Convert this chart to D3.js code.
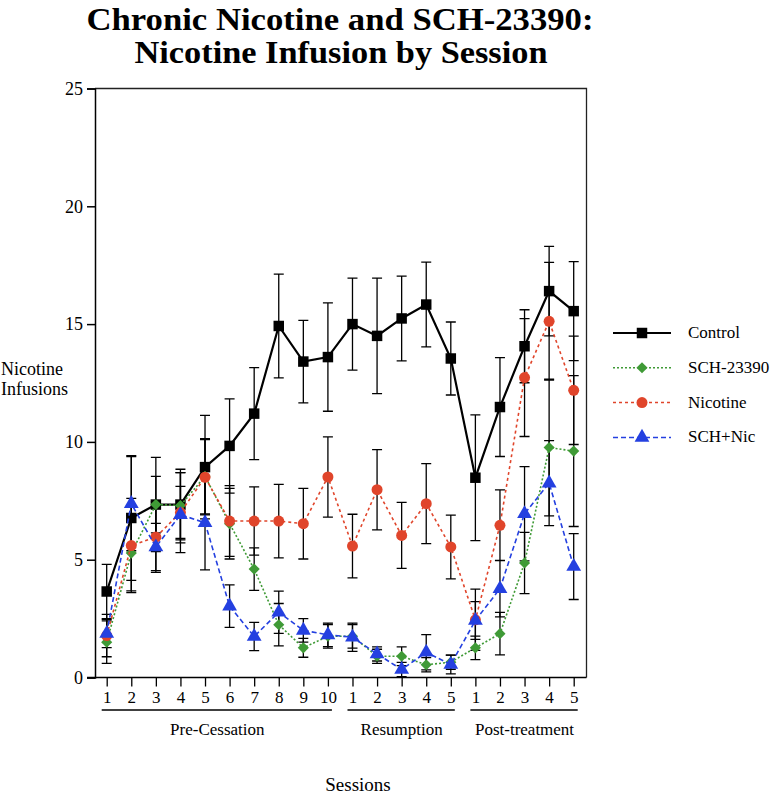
<!DOCTYPE html>
<html><head><meta charset="utf-8">
<script src="https://cdn.jsdelivr.net/npm/d3@7"></script>
<style>body{margin:0;background:#fff}svg{display:block}svg text{font-family:"Liberation Serif","Times New Roman",serif !important;fill:#000}</style>
</head><body>
<svg id="c" width="774" height="795"></svg>
<script>
const sessionLabels = ["1","2","3","4","5","6","7","8","9","10","1","2","3","4","5","1","2","3","4","5"];
const groups = [
  {name:"Pre-Cessation", start:0, end:9},
  {name:"Resumption", start:10, end:14},
  {name:"Post-treatment", start:15, end:19}
];
const yTicks = [0,5,10,15,20,25];

const controlMean = [3.65,6.77,7.34,7.34,8.93,9.83,11.2,14.92,13.41,13.6,15.0,14.5,15.24,15.83,13.54,8.48,11.48,14.06,16.4,15.55];
const controlSE   = [1.15,2.65,2.0,1.5,2.2,2.0,1.95,2.2,1.75,2.3,1.95,2.45,1.8,1.8,1.55,2.67,2.1,1.55,1.9,2.1];
const schMean = [1.5,5.28,7.34,7.3,8.54,6.53,4.6,2.24,1.26,1.75,1.75,0.9,0.9,0.54,0.65,1.26,1.86,4.86,9.76,9.61];
const schSE   = [0.9,1.6,1.2,1.4,1.6,1.5,0.9,0.9,0.4,0.5,0.5,0.3,0.4,0.3,0.3,0.5,0.9,1.3,2.9,3.2];
const nicMean = [1.78,5.6,5.96,7.0,8.5,6.64,6.64,6.64,6.53,8.51,5.58,7.97,6.03,7.38,5.54,2.45,6.46,12.73,15.12,12.19];
const nicSE   = [0.9,2.0,1.5,1.7,1.6,1.5,1.45,1.56,1.5,1.7,1.35,1.7,1.4,1.7,1.35,1.3,1.5,2.5,2.5,2.3];
const snMean = [1.87,7.38,5.54,6.91,6.57,3.03,1.74,2.77,2.0,1.81,1.71,1.0,0.34,1.07,0.55,2.42,3.77,6.95,8.25,4.71];
const snSE   = [0.6,2.0,1.0,1.2,2.0,0.9,0.6,0.9,0.5,0.5,0.6,0.3,0.3,0.75,0.4,0.8,1.2,2.0,1.8,1.4];

const series = [
  {name:"Control",   mean:controlMean, se:controlSE, color:"#000000", dash:null,  width:2.2, shape:d3.symbolSquare,   size:110, rot:0},
  {name:"SCH-23390", mean:schMean,     se:schSE,     color:"#3f9a36", dash:"2,2", width:1.6, shape:d3.symbolSquare,   size:62,  rot:45},
  {name:"Nicotine",  mean:nicMean,     se:nicSE,     color:"#e0452b", dash:"3,3", width:1.6, shape:d3.symbolCircle,   size:95,  rot:0},
  {name:"SCH+Nic",   mean:snMean,      se:snSE,      color:"#2440e0", dash:"5,3", width:1.6, shape:d3.symbolTriangle, size:95,  rot:0}
];

const FONT = "Liberation Serif";
const svg = d3.select("#c").style("font-family", FONT);
const L = 95, R = 586.5, T = 88.5, B = 677.5;
const x = d3.scaleLinear().domain([0,19]).range([106.7,573.7]);
const y = d3.scaleLinear().domain([0,25]).range([B,T]);

// title
svg.append("text").attr("x",340).attr("y",30).attr("text-anchor","middle")
  .attr("font-size",32).attr("font-weight","bold")
  .attr("textLength",507).attr("lengthAdjust","spacingAndGlyphs")
  .text("Chronic Nicotine and SCH-23390:");
svg.append("text").attr("x",341).attr("y",63).attr("text-anchor","middle")
  .attr("font-size",32).attr("font-weight","bold")
  .attr("textLength",413).attr("lengthAdjust","spacingAndGlyphs")
  .text("Nicotine Infusion by Session");

// frame
svg.append("path").attr("d",`M${L},${T}H${R}V${B}`).attr("fill","none").attr("stroke","#222").attr("stroke-width",1.3);

// y axis
const ya = svg.append("g").attr("transform",`translate(${L},0)`)
  .call(d3.axisLeft(y).tickValues(yTicks).tickSize(8).tickPadding(4));
ya.attr("font-family",FONT);
ya.selectAll("path,line").attr("stroke","#000").attr("stroke-width",1.5);
ya.selectAll("text").attr("font-size",18);

// x axis
const xa = svg.append("g").attr("transform",`translate(0,${B})`)
  .call(d3.axisBottom(x).tickValues(d3.range(20)).tickFormat(i=>sessionLabels[i]).tickSize(9).tickPadding(4));
xa.attr("font-family",FONT);
xa.select("path").attr("d",`M${L-8},0H${R}`).attr("stroke","#000").attr("stroke-width",1.5);
xa.selectAll("line").attr("stroke","#000").attr("stroke-width",1.3);
xa.selectAll("text").attr("font-size",17);

// groups
groups.forEach(g=>{
  svg.append("line").attr("x1",x(g.start)-5).attr("x2",x(g.end)+4)
    .attr("y1",710).attr("y2",710).attr("stroke","#000").attr("stroke-width",1.5);
  svg.append("text").attr("x",(x(g.start)+x(g.end))/2).attr("y",735).attr("text-anchor","middle")
    .attr("font-size",17).text(g.name);
});
svg.append("text").attr("x",358).attr("y",791).attr("text-anchor","middle").attr("font-size",19).text("Sessions");

// y label
svg.append("text").attr("x",1).attr("y",375).attr("font-size",18).text("Nicotine");
svg.append("text").attr("x",1).attr("y",395).attr("font-size",18).text("Infusions");

// error bars
const cap = 5;
series.forEach(s=>{
  const g = svg.append("g");
  s.mean.forEach((m,i)=>{
    const x0 = x(i), y1 = y(m+s.se[i]), y2 = y(Math.max(0,m-s.se[i]));
    g.append("path").attr("d",`M${x0},${y1}V${y2}M${x0-cap},${y1}H${x0+cap}M${x0-cap},${y2}H${x0+cap}`)
      .attr("stroke","#000").attr("stroke-width",1.3).attr("fill","none");
  });
});

// lines + markers
const line = d3.line().x((d,i)=>x(i)).y(d=>y(d));
series.forEach(s=>{
  svg.append("path").datum(s.mean).attr("d",line).attr("fill","none")
    .attr("stroke",s.color).attr("stroke-width",s.width).attr("stroke-dasharray",s.dash);
  svg.append("g").selectAll("path").data(s.mean).join("path")
    .attr("transform",(d,i)=>`translate(${x(i)},${y(d)}) rotate(${s.rot})`)
    .attr("d",d3.symbol().type(s.shape).size(s.size)).attr("fill",s.color);
});

// legend
const lg = svg.append("g");
series.forEach((s,k)=>{
  const yy = 333 + k*34.8;
  lg.append("line").attr("x1",613).attr("x2",671).attr("y1",yy).attr("y2",yy)
    .attr("stroke",s.color).attr("stroke-width",s.width===2.2?1.8:1.5).attr("stroke-dasharray",s.dash);
  lg.append("path").attr("transform",`translate(642,${yy}) rotate(${s.rot})`)
    .attr("d",d3.symbol().type(s.shape).size(s.size)).attr("fill",s.color);
  lg.append("text").attr("x",688).attr("y",yy+5).attr("font-size",17).text(s.name);
});
</script>
</body></html>
